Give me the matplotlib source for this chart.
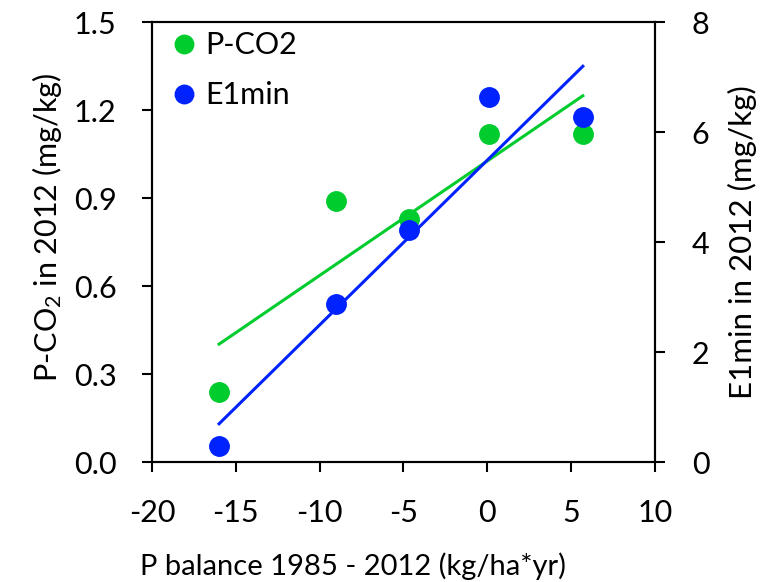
import matplotlib
matplotlib.use('Agg')
import matplotlib.pyplot as plt
import numpy as np

plt.rcParams['font.family'] = ['Lato', 'DejaVu Sans']
plt.rcParams['mathtext.default'] = 'regular'
plt.rcParams['axes.unicode_minus'] = False

# values
p_balance = [-16.0, -9.0, -4.7, 0.1, 5.7]
p_co2 = [0.24, 0.89, 0.83, 1.12, 1.12]
e1min = [0.29, 2.87, 4.22, 6.64, 6.27]

x_ticks = [-20, -15, -10, -5, 0, 5, 10]
left_ticks = [0.0, 0.3, 0.6, 0.9, 1.2, 1.5]
right_ticks = [0, 2, 4, 6, 8]

GREEN = '#00CC2E'
BLUE = '#0022FF'
FS = 22


def trend(x, y):
    k, b = np.polyfit(x, y, 1)
    xs = np.array([min(x), max(x)])
    return xs, k * xs + b


fig = plt.figure(figsize=(7.62, 5.82), dpi=100)
ax = fig.add_axes([0.1995, 0.206, 0.66, 0.756])
ax2 = ax.twinx()

ax.plot(p_balance, p_co2, 'o', color=GREEN, ms=14, label='P-CO2', zorder=3)
xs, ys = trend(p_balance, p_co2)
ax.plot(xs, ys, color=GREEN, lw=2.2)

ax2.plot(p_balance, e1min, 'o', color=BLUE, ms=14, label='E1min', zorder=3)
xs, ys = trend(p_balance, e1min)
ax2.plot(xs, ys, color=BLUE, lw=2.2)

ax.set_xlim(-20, 10)
ax.set_ylim(0, 1.5)
ax2.set_ylim(0, 8)
ax.set_xticks(x_ticks)
ax.set_yticks(left_ticks)
ax.set_yticklabels([f'{v:.1f}' for v in left_ticks])
ax2.set_yticks(right_ticks)

for a in (ax, ax2):
    a.tick_params(direction='out', length=7.5, width=1.5, labelsize=FS)
    for s in a.spines.values():
        s.set_linewidth(1.5)
ax.tick_params(axis='x', pad=19)
ax.tick_params(axis='y', pad=18)
ax2.tick_params(axis='y', pad=19)

ax.set_xlabel('P balance 1985 - 2012 (kg/ha*yr)', fontsize=21)
ax.xaxis.set_label_coords(0.40, -0.205)
ax.set_ylabel('P-CO$_2$ in 2012 (mg/kg)', fontsize=FS)
ax.yaxis.set_label_coords(-0.175, 0.534)
ax2.set_ylabel('E1min in 2012 (mg/kg)', fontsize=22.5, labelpad=13)

h1, l1 = ax.get_legend_handles_labels()
h2, l2 = ax2.get_legend_handles_labels()
ax2.legend(h1 + h2, l1 + l2, loc='upper left', bbox_to_anchor=(0.015, 1.0),
           frameon=False, fontsize=FS,
           handlelength=1.0, handletextpad=0.2, borderaxespad=0.1,
           borderpad=0.2, labelspacing=0.72, markerscale=0.95)

fig.savefig('out.png', dpi=100)
